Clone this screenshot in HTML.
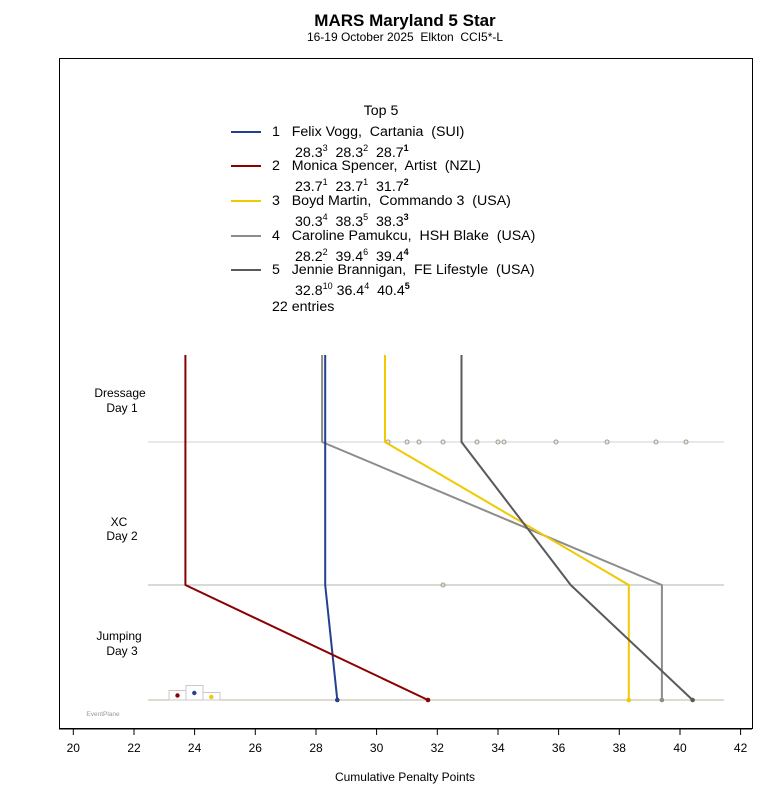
<!DOCTYPE html>
<html><head><meta charset="utf-8"><style>
body{margin:0;background:#fff;}
svg{display:block;font-family:"Liberation Sans",sans-serif;}
text{white-space:pre;}
</style></head><body>
<svg width="780" height="800" viewBox="0 0 780 800" xmlns="http://www.w3.org/2000/svg" xml:space="preserve">
<rect width="780" height="800" fill="#fff"/>
<text x="405" y="26" font-size="17" font-weight="bold" text-anchor="middle">MARS Maryland 5 Star</text>
<text x="405" y="41" font-size="12" text-anchor="middle">16-19 October 2025  Elkton  CCI5*-L</text>
<rect x="59.5" y="58.5" width="693" height="670" fill="none" stroke="#000" stroke-width="1"/>
<g font-size="14.2">
<text x="381" y="115" text-anchor="middle">Top 5</text>
<line x1="231" y1="132" x2="261" y2="132" stroke="#24418f" stroke-width="2"/>
<text x="272" y="136">1   Felix Vogg,  Cartania  (SUI)</text>
<text x="295" y="157">28.3<tspan font-size="9" dy="-6">3</tspan><tspan dy="6">  28.3</tspan><tspan font-size="9" dy="-6">2</tspan><tspan dy="6">  28.7</tspan><tspan font-size="9" dy="-6" font-weight="bold">1</tspan></text>
<line x1="231" y1="166" x2="261" y2="166" stroke="#8b0000" stroke-width="2"/>
<text x="272" y="170">2   Monica Spencer,  Artist  (NZL)</text>
<text x="295" y="191">23.7<tspan font-size="9" dy="-6">1</tspan><tspan dy="6">  23.7</tspan><tspan font-size="9" dy="-6">1</tspan><tspan dy="6">  31.7</tspan><tspan font-size="9" dy="-6" font-weight="bold">2</tspan></text>
<line x1="231" y1="201" x2="261" y2="201" stroke="#f2c800" stroke-width="2"/>
<text x="272" y="205">3   Boyd Martin,  Commando 3  (USA)</text>
<text x="295" y="226">30.3<tspan font-size="9" dy="-6">4</tspan><tspan dy="6">  38.3</tspan><tspan font-size="9" dy="-6">5</tspan><tspan dy="6">  38.3</tspan><tspan font-size="9" dy="-6" font-weight="bold">3</tspan></text>
<line x1="231" y1="236" x2="261" y2="236" stroke="#8c8c8c" stroke-width="2"/>
<text x="272" y="240">4   Caroline Pamukcu,  HSH Blake  (USA)</text>
<text x="295" y="261">28.2<tspan font-size="9" dy="-6">2</tspan><tspan dy="6">  39.4</tspan><tspan font-size="9" dy="-6">6</tspan><tspan dy="6">  39.4</tspan><tspan font-size="9" dy="-6" font-weight="bold">4</tspan></text>
<line x1="231" y1="270" x2="261" y2="270" stroke="#5a5a5a" stroke-width="2"/>
<text x="272" y="274">5   Jennie Brannigan,  FE Lifestyle  (USA)</text>
<text x="295" y="295">32.8<tspan font-size="9" dy="-6">10</tspan><tspan dy="6"> 36.4</tspan><tspan font-size="9" dy="-6">4</tspan><tspan dy="6">  40.4</tspan><tspan font-size="9" dy="-6" font-weight="bold">5</tspan></text>
<text x="272" y="311">22 entries</text>
</g>
<g font-size="12" text-anchor="middle">
<text x="120" y="397">Dressage</text><text x="122" y="412">Day 1</text>
<text x="119" y="526">XC</text><text x="122" y="540">Day 2</text>
<text x="119" y="640">Jumping</text><text x="122" y="655">Day 3</text>
</g>
<line x1="148" y1="442" x2="724" y2="442" stroke="#d0d0d8" stroke-width="1"/>
<line x1="148" y1="585" x2="724" y2="585" stroke="#a8b8a8" stroke-width="1"/>
<line x1="148" y1="700" x2="724" y2="700" stroke="#bdb5a0" stroke-width="1"/>
<g fill="none" stroke="#a09a8a" stroke-width="1">
<circle cx="388" cy="442" r="2"/><circle cx="407" cy="442" r="2"/><circle cx="419" cy="442" r="2"/><circle cx="443" cy="442" r="2"/><circle cx="477" cy="442" r="2"/><circle cx="498" cy="442" r="2"/><circle cx="504" cy="442" r="2"/><circle cx="556" cy="442" r="2"/><circle cx="607" cy="442" r="2"/><circle cx="656" cy="442" r="2"/><circle cx="686" cy="442" r="2"/>
<circle cx="443" cy="585" r="2"/>
</g>
<g fill="none" stroke-width="2" stroke-linejoin="round">
<polyline points="322.1,355 322.1,442 661.9,585 661.9,700" stroke="#8c8c8c"/>
<polyline points="325.2,355 325.2,442 325.2,585 337.3,700" stroke="#24418f"/>
<polyline points="185.4,355 185.4,442 185.4,585 428.0,700" stroke="#8b0000"/>
<polyline points="385.0,355 385.0,442 628.8,585 628.8,700" stroke="#f2c800"/>
<polyline points="461.5,355 461.5,442 570.7,585 692.6,700" stroke="#5a5a5a"/>
</g>
<g>
<circle cx="337.3" cy="700" r="2.3" fill="#24418f"/>
<circle cx="428" cy="700" r="2.3" fill="#8b0000"/>
<circle cx="628.8" cy="700" r="2.3" fill="#f2c800"/>
<circle cx="661.9" cy="700" r="2.3" fill="#8c8c8c"/>
<circle cx="692.6" cy="700" r="2.3" fill="#5a5a5a"/>
</g>
<g fill="#fff" stroke="#c8c8c8" stroke-width="1">
<rect x="169" y="690.5" width="17" height="9.5"/>
<rect x="186" y="685.5" width="17" height="14.5"/>
<rect x="203" y="692.5" width="17" height="7.5"/>
</g>
<circle cx="177.5" cy="695.5" r="2.2" fill="#8b0000"/>
<circle cx="194.3" cy="693" r="2.2" fill="#24418f"/>
<circle cx="211.3" cy="697" r="2.2" fill="#f2c800"/>
<text x="103" y="716" font-size="6.5" fill="#999" text-anchor="middle">EventPlane</text>
<g stroke="#000" stroke-width="1">
<line x1="59" y1="729" x2="752" y2="729"/>
<line x1="73.3" y1="729" x2="73.3" y2="735"/><line x1="134" y1="729" x2="134" y2="735"/><line x1="194.6" y1="729" x2="194.6" y2="735"/><line x1="255.3" y1="729" x2="255.3" y2="735"/><line x1="316" y1="729" x2="316" y2="735"/><line x1="376.6" y1="729" x2="376.6" y2="735"/><line x1="437.3" y1="729" x2="437.3" y2="735"/><line x1="498" y1="729" x2="498" y2="735"/><line x1="558.6" y1="729" x2="558.6" y2="735"/><line x1="619.3" y1="729" x2="619.3" y2="735"/><line x1="680" y1="729" x2="680" y2="735"/><line x1="740.6" y1="729" x2="740.6" y2="735"/>
</g>
<g font-size="12" text-anchor="middle">
<text x="73.3" y="752">20</text><text x="134" y="752">22</text><text x="194.6" y="752">24</text><text x="255.3" y="752">26</text><text x="316" y="752">28</text><text x="376.6" y="752">30</text><text x="437.3" y="752">32</text><text x="498" y="752">34</text><text x="558.6" y="752">36</text><text x="619.3" y="752">38</text><text x="680" y="752">40</text><text x="740.6" y="752">42</text>
<text x="405" y="781">Cumulative Penalty Points</text>
</g>
</svg>
</body></html>
